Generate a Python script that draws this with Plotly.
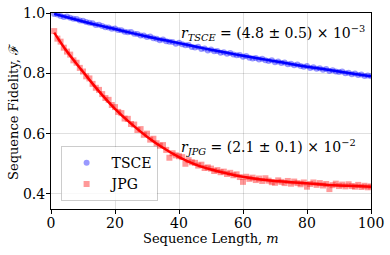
import plotly.graph_objects as go

m_points = list(range(1, 101))

tsce_fidelity = [
    0.997, 0.995, 0.990, 0.987, 0.988, 0.984, 0.981, 0.980, 0.975, 0.974,
    0.970, 0.968, 0.966, 0.960, 0.961, 0.957, 0.953, 0.952, 0.948, 0.949,
    0.944, 0.943, 0.938, 0.936, 0.937, 0.931, 0.930, 0.925, 0.925, 0.920,
    0.922, 0.916, 0.915, 0.910, 0.912, 0.906, 0.905, 0.904, 0.898, 0.901,
    0.896, 0.893, 0.894, 0.887, 0.886, 0.888, 0.881, 0.882, 0.876, 0.879,
    0.873, 0.874, 0.868, 0.870, 0.865, 0.867, 0.862, 0.860, 0.861, 0.855,
    0.857, 0.852, 0.849, 0.851, 0.846, 0.848, 0.843, 0.841, 0.843, 0.837,
    0.839, 0.834, 0.836, 0.830, 0.832, 0.827, 0.829, 0.824, 0.822, 0.824,
    0.818, 0.820, 0.815, 0.817, 0.812, 0.814, 0.808, 0.810, 0.806, 0.804,
    0.806, 0.800, 0.802, 0.797, 0.799, 0.794, 0.796, 0.791, 0.793, 0.790,
]

jpg_fidelity = [
    0.940, 0.915, 0.905, 0.885, 0.872, 0.862, 0.843, 0.835, 0.818, 0.806,
    0.790, 0.783, 0.765, 0.752, 0.745, 0.731, 0.718, 0.712, 0.695, 0.688,
    0.672, 0.668, 0.650, 0.649, 0.632, 0.630, 0.612, 0.615, 0.596, 0.600,
    0.580, 0.583, 0.568, 0.560, 0.562, 0.546, 0.520, 0.535, 0.528, 0.525,
    0.522, 0.500, 0.512, 0.505, 0.503, 0.494, 0.497, 0.486, 0.488, 0.484,
    0.476, 0.479, 0.472, 0.474, 0.466, 0.470, 0.462, 0.465, 0.456, 0.440,
    0.457, 0.450, 0.454, 0.446, 0.451, 0.443, 0.452, 0.444, 0.439, 0.437,
    0.445, 0.440, 0.436, 0.443, 0.434, 0.441, 0.436, 0.432, 0.438, 0.424,
    0.433, 0.438, 0.430, 0.436, 0.428, 0.433, 0.416, 0.429, 0.434, 0.426,
    0.431, 0.425, 0.432, 0.426, 0.424, 0.430, 0.423, 0.427, 0.422, 0.425,
]

m_fit = [1, 5, 10, 15, 20, 25, 30, 35, 40, 45, 50, 55, 60, 65, 70, 75, 80, 85, 90, 95, 100]
tsce_fit = [0.997, 0.986, 0.972, 0.959, 0.947, 0.934, 0.922, 0.911, 0.900, 0.889, 0.878,
            0.868, 0.858, 0.849, 0.840, 0.831, 0.822, 0.814, 0.806, 0.798, 0.790]
jpg_fit = [0.935, 0.872, 0.805, 0.740, 0.682, 0.633, 0.590, 0.553, 0.522, 0.498, 0.481,
           0.468, 0.457, 0.449, 0.443, 0.439, 0.435, 0.431, 0.428, 0.426, 0.424]

x_ticks = [0, 20, 40, 60, 80, 100]
y_ticks = [0.4, 0.6, 0.8, 1.0]

SERIF = "DejaVu Serif"

fig = go.Figure()
fig.add_trace(go.Scatter(
    x=m_points, y=tsce_fidelity, mode="markers", name="TSCE",
    marker=dict(symbol="circle", size=6, color="rgba(0,0,255,0.4)", line=dict(width=0)),
))
fig.add_trace(go.Scatter(
    x=m_points, y=jpg_fidelity, mode="markers", name="JPG",
    marker=dict(symbol="square", size=6, color="rgba(255,0,0,0.4)", line=dict(width=0)),
))
fig.add_trace(go.Scatter(
    x=m_fit, y=tsce_fit, mode="lines", showlegend=False,
    line=dict(color="#0000ff", width=2.5, shape="spline"),
))
fig.add_trace(go.Scatter(
    x=m_fit, y=jpg_fit, mode="lines", showlegend=False,
    line=dict(color="#ff0000", width=2.5, shape="spline"),
))

fig.add_annotation(
    x=40, y=0.935, xref="x", yref="y", xanchor="left", yanchor="middle",
    text="<i>r</i><sub><i>TSCE</i></sub> = (4.8 ± 0.5) × 10<sup>−3</sup>",
    showarrow=False, font=dict(family=SERIF, size=14, color="black"),
)
fig.add_annotation(
    x=40, y=0.555, xref="x", yref="y", xanchor="left", yanchor="middle",
    text="<i>r</i><sub><i>JPG</i></sub> = (2.1 ± 0.1) × 10<sup>−2</sup>",
    showarrow=False, font=dict(family=SERIF, size=14, color="black"),
)
# axis titles
fig.add_annotation(
    x=0.5, y=-0.152, xref="paper", yref="paper", xanchor="center", yanchor="middle",
    text="Sequence Length, <i>m</i>",
    showarrow=False, font=dict(family=SERIF, size=13, color="black"),
)
fig.add_annotation(
    x=-0.119, y=0.5, xref="paper", yref="paper", xanchor="center", yanchor="middle",
    text="Sequence Fidelity, ℱ", textangle=-90,
    showarrow=False, font=dict(family=SERIF, size=13, color="black"),
)

axis_common = dict(
    showline=True, linecolor="black", linewidth=1, mirror=True,
    ticks="outside", ticklen=4, tickcolor="black",
    showgrid=True, gridcolor="rgba(0,0,0,0.12)", gridwidth=1,
    zeroline=False, tickfont=dict(family=SERIF, size=14, color="black"),
    automargin=False, ticklabeloverflow="allow",
)

fig.update_layout(
    width=390, height=255,
    margin=dict(l=51, r=19, t=13, b=46),
    paper_bgcolor="white", plot_bgcolor="white",
    font=dict(family=SERIF, size=14, color="black"),
    xaxis=dict(range=[0, 100], tickvals=x_ticks, ticktext=[str(v) for v in x_ticks],
               ticklabelstandoff=-3, **axis_common),
    yaxis=dict(range=[0.35, 1.0], tickvals=y_ticks, ticktext=["0.4", "0.6", "0.8", "1.0"],
               ticklabelstandoff=-2, **axis_common),
    legend=dict(x=0.03, y=0.04, xanchor="left", yanchor="bottom",
                bgcolor="rgba(255,255,255,0.8)", bordercolor="rgba(0,0,0,0.2)", borderwidth=1,
                font=dict(family=SERIF, size=14, color="black"),
                itemwidth=40),
    showlegend=True,
)

fig.write_html("out.html", config={"displayModeBar": False},
               post_script="document.body.style.margin='0px';")
